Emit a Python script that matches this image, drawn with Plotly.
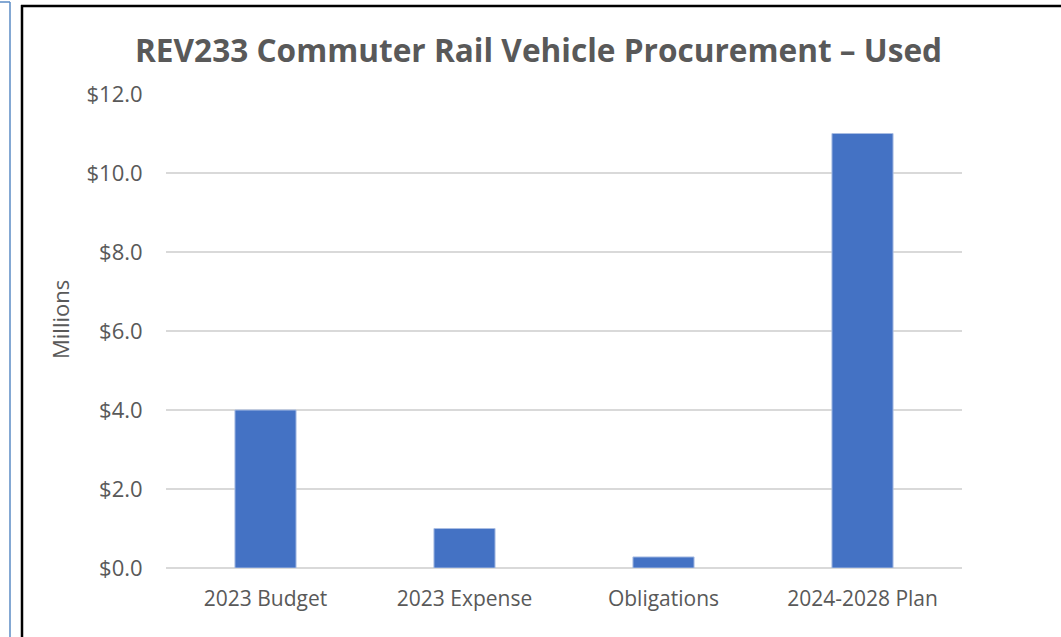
import plotly.graph_objects as go

categories = ["2023 Budget", "2023 Expense", "Obligations", "2024-2028 Plan"]
values = [4.0, 1.0, 0.28, 11.0]
y_ticks = [0, 2, 4, 6, 8, 10, 12]
y_tick_labels = ["$0.0", "$2.0", "$4.0", "$6.0", "$8.0", "$10.0", "$12.0"]

W, H = 1061, 637
def px(x):
    return x / W
def py(y):
    return 1 - y / H

GRAY = "#595959"
FONT = "Open Sans"

fig = go.Figure()
fig.add_trace(go.Bar(
    x=categories, y=values,
    marker=dict(color="#4472C4", line=dict(color="#a9bde3", width=1)),
    width=0.307,
))

fig.update_layout(
    width=W, height=H,
    margin=dict(l=0, r=0, t=0, b=0, pad=0, autoexpand=False),
    paper_bgcolor="white", plot_bgcolor="white",
    showlegend=False,
    font=dict(family=FONT, color=GRAY, size=21),
    xaxis=dict(
        domain=[px(166), px(962)],
        automargin=False,
        showgrid=False, showline=False, zeroline=False,
        ticks="outside", ticklen=12, tickcolor="rgba(0,0,0,0)",
        tickfont=dict(size=21, color=GRAY, family=FONT),
    ),
    yaxis=dict(
        domain=[py(568), py(94)],
        range=[0, 12],
        automargin=False,
        tickvals=y_ticks, ticktext=y_tick_labels,
        showgrid=True, gridcolor="#d9d9d9", gridwidth=2,
        zeroline=True, zerolinecolor="#d9d9d9", zerolinewidth=2,
        showline=False,
        ticks="outside", ticklen=18, tickcolor="rgba(0,0,0,0)",
        tickfont=dict(size=22, color=GRAY, family=FONT),
    ),
    annotations=[
        dict(text="<b>REV233 Commuter Rail Vehicle Procurement – Used</b>",
             x=px(538.5), y=py(50), xref="paper", yref="paper",
             xanchor="center", yanchor="middle", showarrow=False,
             font=dict(size=31.6, color=GRAY, family=FONT)),
        dict(text="Millions", textangle=-90,
             x=px(60), y=py(320), xref="paper", yref="paper",
             xanchor="center", yanchor="middle", showarrow=False,
             font=dict(size=22, color=GRAY, family=FONT)),
    ],
    shapes=[
        dict(type="line", xref="paper", yref="paper",
             x0=px(10), x1=px(10), y0=py(2), y1=py(H + 2),
             line=dict(color="#5b8bc5", width=1.5)),
        dict(type="line", xref="paper", yref="paper",
             x0=0, x1=px(10), y0=py(2), y1=py(2),
             line=dict(color="#5b8bc5", width=1.5)),
        dict(type="line", xref="paper", yref="paper",
             x0=px(22), x1=px(22), y0=py(5), y1=py(H + 2),
             line=dict(color="black", width=2.5)),
        dict(type="line", xref="paper", yref="paper",
             x0=px(21), x1=px(W + 2), y0=py(6), y1=py(6),
             line=dict(color="black", width=2.5)),
    ],
)

fig.write_html(
    "out.html",
    config={"displayModeBar": False},
    post_script="document.body.style.margin='0';document.body.style.overflow='hidden';",
)
